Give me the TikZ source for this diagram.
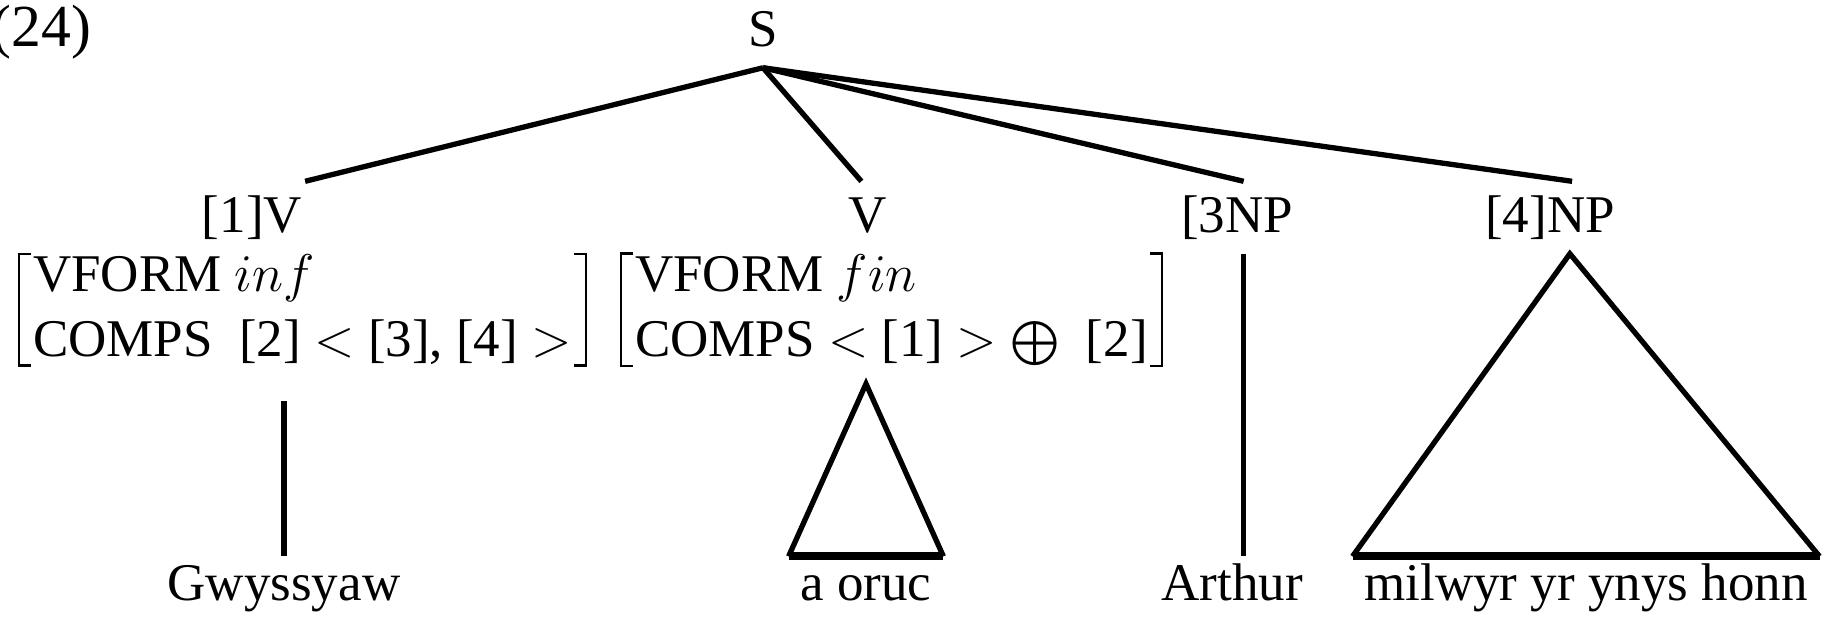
\documentclass[tikz,border=0pt]{standalone}
\usepackage{fontspec}
\setmainfont{Liberation Serif}

\begin{document}
\begin{tikzpicture}[x=0.2264pt, y=-0.2264pt,
    font=\fontsize{12pt}{14.7pt}\selectfont,
    cat/.style={anchor=base, text height=0.9em, text depth=0.2em,
                inner xsep=2.5pt, inner ysep=2.5pt},
    avm/.style={anchor=west, align=left, inner xsep=3pt, inner ysep=0pt},
    word/.style={anchor=base, text height=0.75em, inner xsep=2.5pt, inner ysep=2.4pt},
    link/.style={line width=1.2pt},
    roof/.style={line width=1.8pt},
    brk/.style={line width=0.6pt}]
\useasboundingbox (0,0) rectangle (1824,617);

\node[anchor=base west, inner sep=0pt, font=\fontsize{13.5pt}{16pt}\selectfont] (ex) at (-9,47) {(24)};
\node[cat] (s) at (763,47) {S};
\node[cat] (v1) at (252,233) {[1]V};
\node[cat] (v2) at (868,233) {V};
\node[cat] (np3) at (1237,233) {[3NP};
\node[cat] (np4) at (1550,233) {[4]NP};

% feature structures
\node[avm] (avm1) at (19,310) {VFORM $inf$\\COMPS~~[2] $<$ [3], [4] $>$};
\node[avm] (avm2) at (621,310) {VFORM $fin$\\COMPS $<$ [1] $>$ $\bigoplus$~~[2]};
\foreach \a in {avm1,avm2} {
  \draw[brk] ([xshift=2.8pt]\a.north west) -| (\a.south west) -- ++(2.8pt,0pt);
  \draw[brk] ([xshift=-2.8pt]\a.north east) -| (\a.south east) -- ++(-2.8pt,0pt);
}

\node[word] (w1) at (284,601) {Gwyssyaw};
\node[word] (w2) at (866,601) {a oruc};
\node[word] (w3) at (1232,601) {Arthur};
\node[word] (w4) at (1586,601) {milwyr yr ynys honn};

\draw[link] (s.south) -- ([xshift=-2pt]v1.north east);
\draw[link] (s.south) -- ([xshift=-1.5pt]v2.north);
\draw[link] (s.south) -- ([xshift=1.5pt]np3.north);
\draw[link] (s.south) -- ([xshift=5pt]np4.north);

\draw[link] ([yshift=-8pt]avm1.south -| w1.north) -- (w1.north);
\draw[link] (w2.north west) -- ([yshift=-4pt]avm2.south -| w2.north) -- (w2.north east);
\draw[roof] (w2.north west) -- (w2.north east);
\draw[link] ([xshift=1.5pt]np3.south) -- ([xshift=1.5pt]np3.south |- w3.north);
\draw[link] (w4.north west) -- ([xshift=4.5pt]np4.south) -- (w4.north east);
\draw[roof] (w4.north west) -- (w4.north east);
\end{tikzpicture}
\end{document}
